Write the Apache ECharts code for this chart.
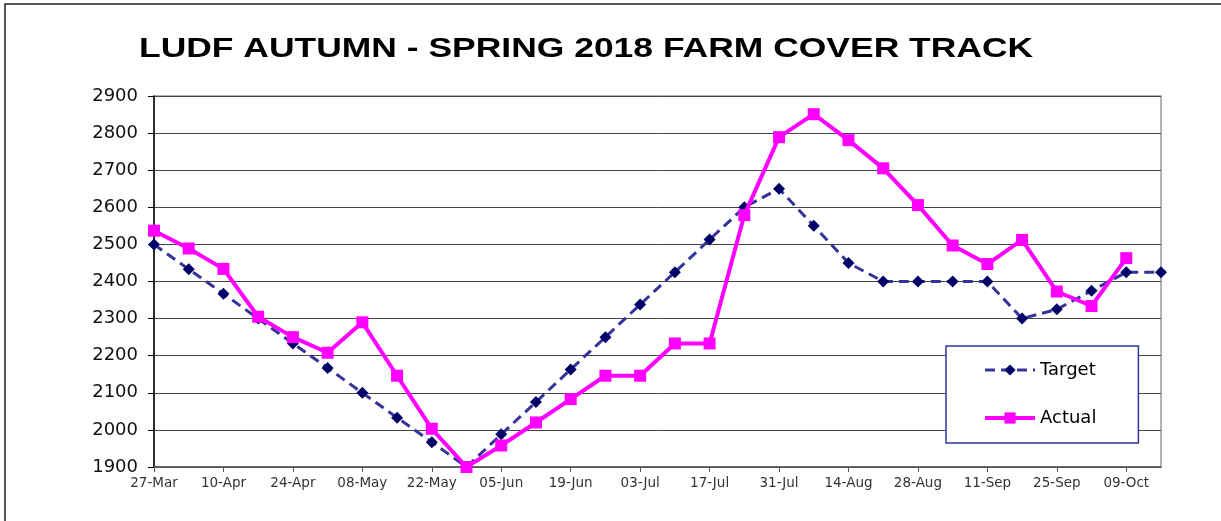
<!DOCTYPE html>
<html>
<head>
<meta charset="utf-8">
<script src="https://cdn.jsdelivr.net/npm/echarts@6/dist/echarts.min.js"></script>
<style>
  html, body { margin: 0; padding: 0; background: #fff; }
  #chart { width: 1221px; height: 521px; }
</style>
</head>
<body>
<div id="chart"></div>
<script>
// weekly dates, farm cover kg DM/ha
const weeks = ['27-Mar', '03-Apr', '10-Apr', '17-Apr', '24-Apr', '01-May', '08-May', '15-May', '22-May', '29-May',
  '05-Jun', '12-Jun', '19-Jun', '26-Jun', '03-Jul', '10-Jul', '17-Jul', '24-Jul', '31-Jul', '07-Aug',
  '14-Aug', '21-Aug', '28-Aug', '04-Sep', '11-Sep', '18-Sep', '25-Sep', '02-Oct', '09-Oct', '16-Oct']
const target = [2500, 2433, 2367, 2300, 2233, 2167, 2100, 2033, 1967, 1900,
  1988, 2075, 2163, 2250, 2338, 2425, 2513, 2600, 2650, 2550,
  2450, 2400, 2400, 2400, 2400, 2300, 2325, 2375, 2425, 2425]
const actual = [2537, 2489, 2434, 2305, 2250, 2208, 2290, 2146, 2003, 1900,
  1958, 2020, 2083, 2146, 2146, 2233, 2233, 2579, 2789, 2851,
  2781, 2705, 2606, 2497, 2447, 2512, 2373, 2334, 2463, null]
const titleText = 'LUDF AUTUMN - SPRING 2018 FARM COVER TRACK'

const font = 'DejaVu Sans'
let chart = echarts.init(document.getElementById('chart'))

chart.setOption({
  animation: false,
  backgroundColor: '#fff',
  graphic: [
    { // outer frame, runs off the right and bottom edges
      type: 'rect',
      shape: { x: 5, y: 4, width: 1240, height: 540 },
      style: { fill: null, stroke: '#222', lineWidth: 1.5 },
      silent: true
    },
    { // title, the original is stretched wide
      type: 'text',
      x: 139,
      y: 49,
      scaleX: 1.266,
      style: {
        text: titleText,
        font: 'bold 28px "Liberation Sans", Arial, sans-serif',
        fill: '#000',
        verticalAlign: 'middle'
      },
      silent: true
    }
  ],
  legend: {
    orient: 'vertical',
    left: 946,
    top: 346,
    padding: [15, 42, 16, 37],
    itemWidth: 50,
    itemHeight: 14,
    itemGap: 30,
    backgroundColor: '#fff',
    borderColor: '#333399',
    borderWidth: 1.5,
    textStyle: { fontFamily: font, fontSize: 18, color: '#000' },
    data: [
      { name: 'Target', lineStyle: { width: 3 } },
      { name: 'Actual', lineStyle: { width: 4 } }
    ]
  },
  grid: {
    left: 154,
    right: 60,
    top: 96,
    bottom: 54,
    show: true,
    borderColor: '#999',
    borderWidth: 1.5
  },
  xAxis: {
    type: 'category',
    data: weeks,
    boundaryGap: false,
    axisLine: { lineStyle: { color: '#555', width: 1.5 } },
    axisTick: { interval: 1, length: 5, lineStyle: { color: '#555' } },
    axisLabel: { interval: 1, margin: 9, fontFamily: font, fontSize: 13.5, color: '#333' },
    splitLine: { show: false }
  },
  yAxis: {
    type: 'value',
    min: 1900,
    max: 2900,
    interval: 100,
    axisLine: { show: true, lineStyle: { color: '#000', width: 1.5 } },
    axisTick: { show: true, length: 6, lineStyle: { color: '#000' } },
    axisLabel: { margin: 16, fontFamily: font, fontSize: 18, color: '#111', formatter: v => String(v) },
    splitLine: { lineStyle: { color: '#444', width: 1 } }
  },
  series: [
    {
      name: 'Target',
      type: 'line',
      data: target,
      symbol: 'diamond',
      symbolSize: 12,
      itemStyle: { color: '#000066' },
      lineStyle: { color: '#333399', width: 3, type: [10, 6] },
      z: 2
    },
    {
      name: 'Actual',
      type: 'line',
      data: actual,
      symbol: 'rect',
      symbolSize: 12,
      connectNulls: false,
      itemStyle: { color: '#ff00ff' },
      lineStyle: { color: '#ff00ff', width: 4 },
      z: 3
    }
  ]
})
</script>
</body>
</html>
